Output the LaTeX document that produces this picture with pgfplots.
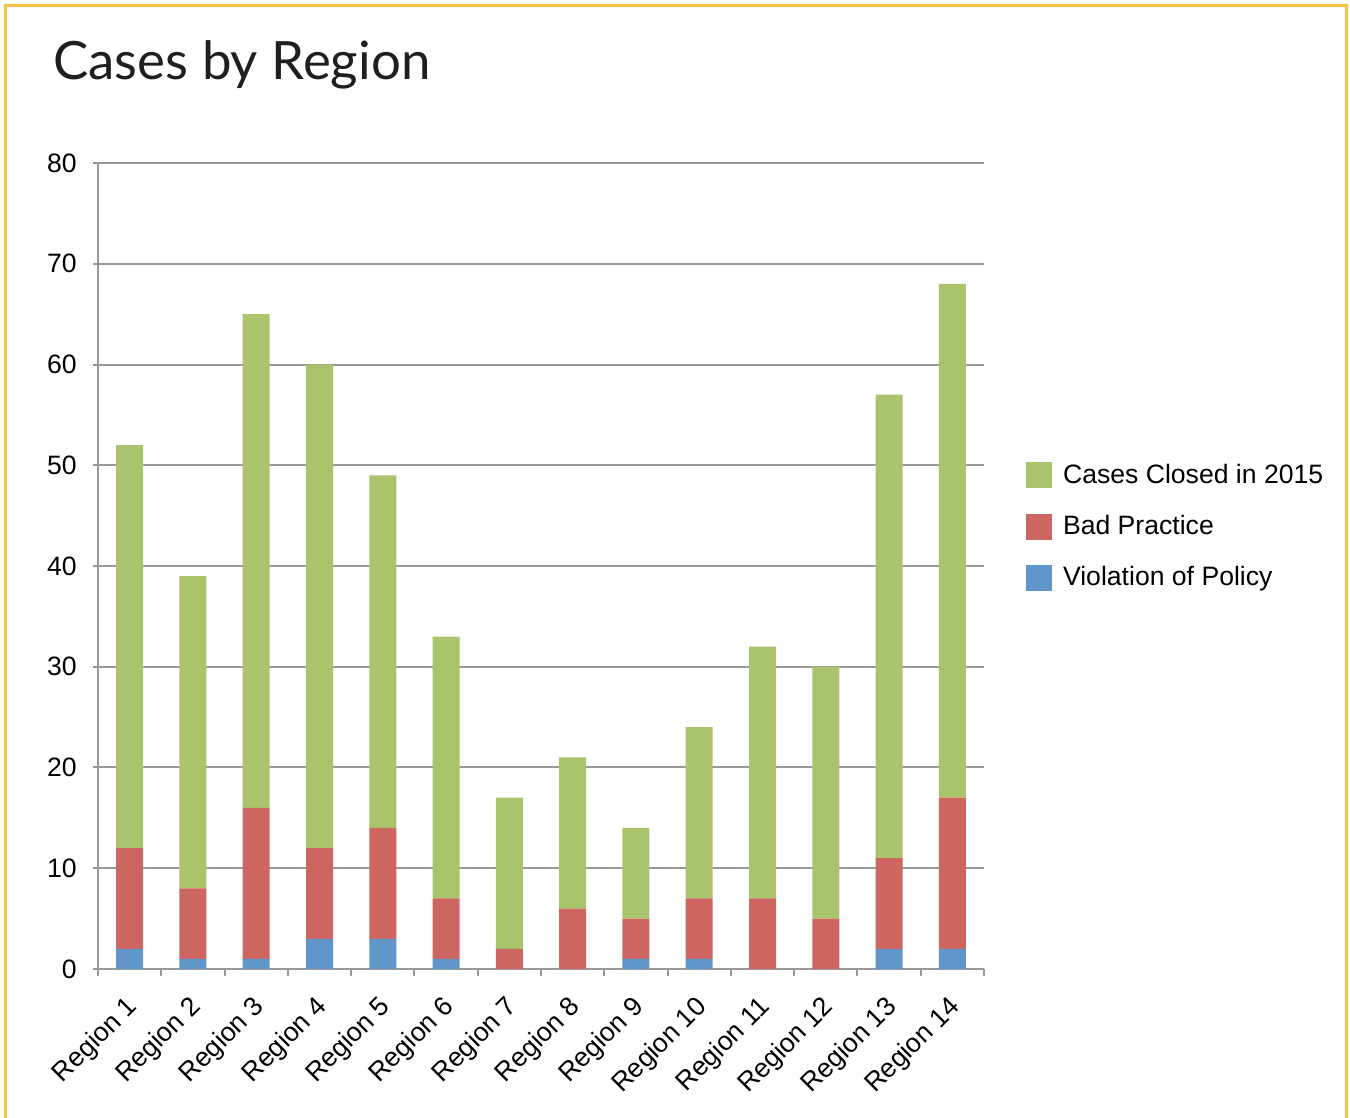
\documentclass[border=0pt]{standalone}
\usepackage{fontspec}
\setmainfont{Liberation Sans}
\newfontfamily\titlefont{Lato}
\usepackage{pgfplots}
\usepackage{pgfplotstable}
\pgfplotsset{compat=1.18}
\definecolor{cgreen}{HTML}{A9C46B}
\definecolor{cred}{HTML}{CD6661}
\definecolor{cblue}{HTML}{6196CA}
\definecolor{cgold}{HTML}{F5C445}
\definecolor{cgrid}{HTML}{999999}
\pgfplotstableread{
x blue red green
1 2 10 40
2 1 7 31
3 1 15 49
4 3 9 48
5 3 11 35
6 1 6 26
7 0 2 15
8 0 6 15
9 1 4 9
10 1 6 17
11 0 7 25
12 0 5 25
13 2 9 46
14 2 15 51
}\data
\begin{document}
\begin{tikzpicture}[x=1pt,y=1pt]
\useasboundingbox (0,0) rectangle (675,559);
\draw[cgold,line width=1.5pt] (2.75,-2) -- (2.75,556.25) -- (673.25,556.25) -- (673.25,-2);
\node[anchor=base west,inner sep=0pt,font=\titlefont\fontsize{26.4}{30}\selectfont,text=black!88] at (26.5,519) {Cases by Region};
\begin{axis}[
  at={(49pt,74.5pt)}, anchor=south west,
  scale only axis, width=443pt, height=403pt,
  ybar stacked, bar width=13.5pt,
  xmin=0.5, xmax=14.5, ymin=0, ymax=80,
  axis x line*=bottom, axis y line*=left,
  axis line style={cgrid, line width=1pt},
  ytick={0,10,...,80},
  ymajorgrids, grid style={cgrid, line width=1pt},
  xtick={1,...,14},
  xticklabels={Region 1,Region 2,Region 3,Region 4,Region 5,Region 6,Region 7,Region 8,Region 9,Region 10,Region 11,Region 12,Region 13,Region 14},
  minor xtick={0.5,1.5,...,14.5},
  tick align=outside,
  major x tick style={draw=none},
  minor tick length=3.5pt,
  major tick length=2.5pt,
  tick style={cgrid, line width=1pt},
  xticklabel style={anchor=north east, inner sep=0pt, xshift=-2.5pt, yshift=-10pt, rotate=45, font=\fontsize{13.3}{15}\selectfont},
  yticklabel style={font=\fontsize{13.3}{15}\selectfont, inner sep=0pt, xshift=-8pt},
  /pgf/number format/assume math mode=true,
  reverse legend,
  legend style={at={(1.047,0.549)}, anchor=west, draw=none, fill=none, inner sep=0pt,
    font=\fontsize{13.3}{15}\selectfont, row sep=10.5pt},
  legend cell align=left,
  legend image code/.code={\fill[#1] (0pt,-6.5pt) rectangle (13pt,6.5pt);},
  /tikz/every odd column/.append style={column sep=3.5pt},
]
\addplot[fill=cblue, draw=none] table[x=x,y=blue]{\data};
\addplot[fill=cred, draw=none] table[x=x,y=red]{\data};
\addplot[fill=cgreen, draw=none] table[x=x,y=green]{\data};
\legend{Violation of Policy,Bad Practice,Cases Closed in 2015}
\end{axis}
\end{tikzpicture}
\end{document}
